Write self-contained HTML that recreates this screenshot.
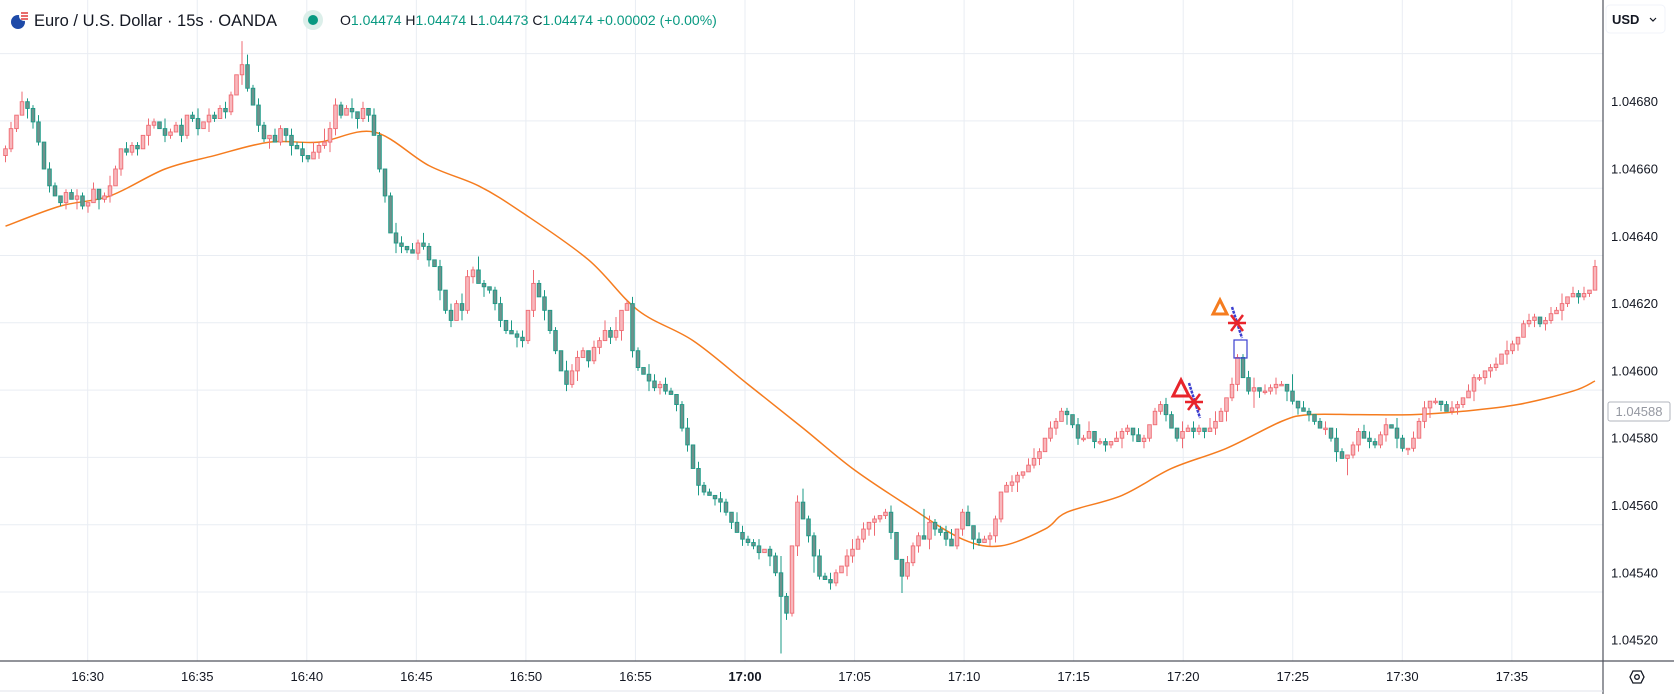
<!DOCTYPE html>
<html><head><meta charset="utf-8">
<style>
html,body{margin:0;padding:0;background:#fff;}
body{width:1674px;height:694px;overflow:hidden;font-family:"Liberation Sans",sans-serif;}
svg{display:block;}
</style></head>
<body>
<svg id="chart" width="1674" height="694" xmlns="http://www.w3.org/2000/svg">
  <rect x="0" y="0" width="1674" height="694" fill="#ffffff"/>
  <g id="grid"></g>
  <g id="ma"></g>
  <g id="candles"></g>
  <g id="markers">
    <polygon points="1220,300 1213,314 1227,314" fill="none" stroke="#f57c1f" stroke-width="3" stroke-linejoin="miter"/>
    <line x1="1232" y1="307" x2="1242" y2="338" stroke="#3b3fd0" stroke-width="2.5" stroke-dasharray="3,1"/>
    <g stroke="#e8242b" stroke-width="2.5">
      <line x1="1228" y1="323" x2="1246" y2="323"/><line x1="1231" y1="315" x2="1243" y2="331"/><line x1="1243" y1="315" x2="1231" y2="331"/>
    </g>
    <rect x="1234" y="340" width="13" height="18" fill="none" stroke="#3b3fd0" stroke-width="1.2"/>
    <polygon points="1181,380 1173,396 1189,396" fill="none" stroke="#e8242b" stroke-width="3"/>
    <line x1="1189" y1="383" x2="1200" y2="418" stroke="#3b3fd0" stroke-width="2.5" stroke-dasharray="3,1"/>
    <g stroke="#e8242b" stroke-width="2.5">
      <line x1="1185" y1="402" x2="1203" y2="402"/><line x1="1188" y1="394" x2="1200" y2="410"/><line x1="1200" y1="394" x2="1188" y2="410"/>
    </g>
  </g>
  <!-- axes -->
  <line x1="1603" y1="0" x2="1603" y2="694" stroke="#50535e" stroke-width="1.2"/>
  <line x1="0" y1="661" x2="1674" y2="661" stroke="#50535e" stroke-width="1.2"/>
  <line x1="0" y1="691" x2="1603" y2="691" stroke="#e0e3eb" stroke-width="1"/>
  <g id="yticks"></g>
  <g id="xticks"></g>
  <rect x="1608" y="402" width="62" height="19" fill="#fff" stroke="#b2b5be" stroke-width="1" rx="2"/>
  <text x="1639" y="416" font-size="13" fill="#9598a1" text-anchor="middle">1.04588</text>
  <rect x="1606" y="5" width="59" height="28" rx="4" fill="#fff" stroke="#f0f3fa"/>
  <text x="1612" y="24" font-size="13" font-weight="bold" fill="#131722">USD</text>
  <path d="M1650 18 l3 3 l3 -3" fill="none" stroke="#131722" stroke-width="1.2"/>
  <g>
    <polygon points="1630,677 1633,671 1641,671 1644,677 1641,683 1633,683" fill="none" stroke="#131722" stroke-width="1.3"/>
    <circle cx="1637" cy="677" r="2.3" fill="none" stroke="#131722" stroke-width="1.3"/>
  </g>
  <!-- header -->
  <g>
    <circle cx="18" cy="22" r="7" fill="#1e4aa8"/>
    <circle cx="24" cy="16" r="5" fill="#fff"/>
    <path d="M21 13 h7 M21 16 h7 M21 19 h7" stroke="#e03c3c" stroke-width="1.5"/>
  </g>
  <text x="34" y="26" font-size="16.5" fill="#131722">Euro / U.S. Dollar · 15s · OANDA</text>
  <circle cx="313" cy="20" r="10" fill="#dcefea"/>
  <circle cx="313" cy="20" r="5" fill="#089981"/>
  <text x="340" y="25" font-size="14" fill="#089981"><tspan fill="#131722">O</tspan>1.04474 <tspan fill="#131722">H</tspan>1.04474 <tspan fill="#131722">L</tspan>1.04473 <tspan fill="#131722">C</tspan>1.04474 +0.00002 (+0.00%)</text>
</svg>
<script>
const closes = [
4666,4672,4676,4680,4678,4674,4668,4660,4655,4652,
4650,4653,4651,4652,4649,4650,4654,4651,4652,4655,
4660,4666,4665,4667,4666,4670,4673,4674,4672,4670,
4671,4673,4670,4676,4675,4672,4674,4676,4675,4678,
4677,4682,4688,4691,4684,4679,4673,4669,4670,4668,
4672,4670,4667,4666,4664,4663,4665,4667,4668,4672,
4679,4676,4678,4677,4675,4678,4676,4670,4660,4652,
4641,4638,4637,4636,4635,4638,4637,4633,4631,4624,
4618,4615,4620,4618,4628,4630,4626,4625,4624,4620,
4615,4612,4611,4610,4609,4618,4626,4622,4618,4612,
4606,4600,4596,4600,4604,4606,4603,4607,4609,4612,
4610,4612,4618,4620,4606,4601,4599,4597,4595,4596,
4594,4593,4590,4583,4578,4571,4566,4564,4563,4562,
4561,4558,4555,4552,4550,4549,4548,4546,4547,4545,
4540,4533,4528,4548,4561,4556,4551,4545,4539,4538,
4537,4540,4542,4545,4547,4550,4553,4555,4556,4557,
4558,4552,4544,4539,4543,4548,4551,4550,4555,4553,
4552,4550,4548,4553,4558,4554,4550,4549,4550,4551,
4556,4564,4566,4567,4569,4570,4572,4574,4576,4580,
4583,4585,4588,4587,4584,4580,4580,4582,4579,4579,
4578,4579,4580,4582,4583,4581,4579,4580,4584,4588,
4590,4587,4583,4580,4582,4583,4582,4583,4582,4583,
4585,4588,4592,4596,4604,4598,4594,4595,4594,4594,
4595,4596,4596,4594,4591,4589,4588,4587,4585,4583,
4583,4580,4576,4574,4575,4578,4582,4580,4579,4578,
4581,4584,4583,4580,4577,4577,4580,4585,4589,4591,
4591,4590,4588,4589,4590,4592,4594,4598,4598,4600,
4601,4602,4605,4606,4608,4610,4614,4615,4616,4614,
4615,4617,4618,4620,4622,4623,4622,4623,4624,4631];
const wickUp = "1203112021"+"0112102013"+"1021102103"+"1120130211"+"2107312102"+"1021203142"+"2113020210"+"1320213102"+"0213214101"+"2031204120"+
"1032210213"+"1401210321"+"2101302110"+"2103211201"+"1510241121"+"2102312010"+"1200211821"+"1230120211"+"1012102310"+"2111021301"+
"1021102101"+"1210312103"+"3102112302"+"1210502101"+"2031011221"+"1203102120"+"1012102110"+"1203101210"+"1213021202";
const wickDown = "2110321020"+"1203120312"+"0211203102"+"1021120310"+"2103102130"+"1230210213"+"2102312012"+"0321021203"+"1203120312"+"2103212031"+
"1021302120"+"2130210312"+"1021203102"+"3120211203"+"1h21302510"+"2103201241"+"1205112032"+"1201203102"+"2102310120"+"1203121021"+
"2103120210"+"1201302120"+"2031201521"+"1203120210"+"2130512021"+"1203121023"+"1201210312"+"2103120121"+"2103102110";
const maIndex = [0,10,19,29,38,48,57,67,77,86,94,106,115,125,135,145,154,164,174,181,189,193,203,212,222,232,237,246,256,265,275,285,289];
const maValues = [4643,4649,4652,4660,4664,4668,4668,4671,4661,4655,4647,4633,4618,4609,4596,4583,4571,4560,4550,4548,4553,4558,4563,4571,4577,4585,4587,4587,4587,4588,4590,4594,4597];
const priceTicks = ["1.04680","1.04660","1.04640","1.04620","1.04600","1.04580","1.04560","1.04540","1.04520"];
const timeTicks = ["16:30","16:35","16:40","16:45","16:50","16:55","17:00","17:05","17:10","17:15","17:20","17:25","17:30","17:35"];

const NS="http://www.w3.org/2000/svg";
function el(tag,attrs,parent){const e=document.createElementNS(NS,tag);for(const k in attrs)e.setAttribute(k,attrs[k]);parent.appendChild(e);return e;}
function yScale(p){return 101.7+(4680-p)*3.365;}
function xScale(i){return 5.5+i*5.5;}
function tickX(k){return 87.7+k*109.55;}

const grid=document.getElementById('grid');
for(let k=-1;k<9;k++){
  const y=53.6+k*67.3;
  const l=el('line',{x1:0,x2:1603,y1:y,y2:y,stroke:'#e9edf3','stroke-width':1},grid);
  
  
}
for(let k=0;k<timeTicks.length;k++){
  const x=tickX(k);
  const l=el('line',{x1:x,x2:x,y1:0,y2:661,stroke:'#e9edf3','stroke-width':1},grid);
  
  
}
const yt=document.getElementById('yticks');
priceTicks.forEach((t,k)=>{
  const tx=el('text',{x:1611,y:101.7+k*67.3+4.5,'font-size':13,fill:'#131722'},yt);
  tx.textContent=t;
  
  
});
const xt=document.getElementById('xticks');
timeTicks.forEach((t,k)=>{
  const tx=el('text',{x:tickX(k),y:681,'font-size':13,fill:'#131722','text-anchor':'middle'},xt);
  if(t==="17:00")tx.setAttribute('font-weight','bold');
  tx.textContent=t;
  
  
});

const cg=document.getElementById('candles');
for(let i=0;i<closes.length;i++){
  const c=closes[i];
  const o=i>0?closes[i-1]:c-2;
  const hi=Math.max(o,c)+parseInt(wickUp[i]||'0',36);
  const lo=Math.min(o,c)-parseInt(wickDown[i]||'0',36);
  const up=c>=o;
  const stroke=up?'#ef6b73':'#1a9a86';
  const fill=up?'#f8b8bd':'#6f918c';
  const x=xScale(i);
  const w=el('line',{x1:x,x2:x,y1:yScale(hi),y2:yScale(lo),stroke:stroke,'stroke-width':1},cg);
  
  
  let top=yScale(Math.max(o,c)), bot=yScale(Math.min(o,c));
  if(bot-top<1.5){bot=top+1.5;}
  const b=el('rect',{x:x-1.8,y:top,width:3.6,height:bot-top,fill:fill,stroke:stroke,'stroke-width':0.9},cg);
  
  
}

const mg=document.getElementById('ma');
let d='';
const pts=maIndex.map((idx,k)=>[xScale(idx),yScale(maValues[k])]);
d='M'+pts[0][0]+' '+pts[0][1];
for(let k=1;k<pts.length;k++){
  const p0=pts[k-2]||pts[k-1],p1=pts[k-1],p2=pts[k],p3=pts[k+1]||pts[k];
  const c1x=p1[0]+(p2[0]-p0[0])/6,c1y=p1[1]+(p2[1]-p0[1])/6;
  const c2x=p2[0]-(p3[0]-p1[0])/6,c2y=p2[1]-(p3[1]-p1[1])/6;
  d+=` C${c1x} ${c1y} ${c2x} ${c2y} ${p2[0]} ${p2[1]}`;
}
const path=el('path',{d:d,fill:'none',stroke:'#f57c1f','stroke-width':1.5},mg);


</script>
</body></html>
